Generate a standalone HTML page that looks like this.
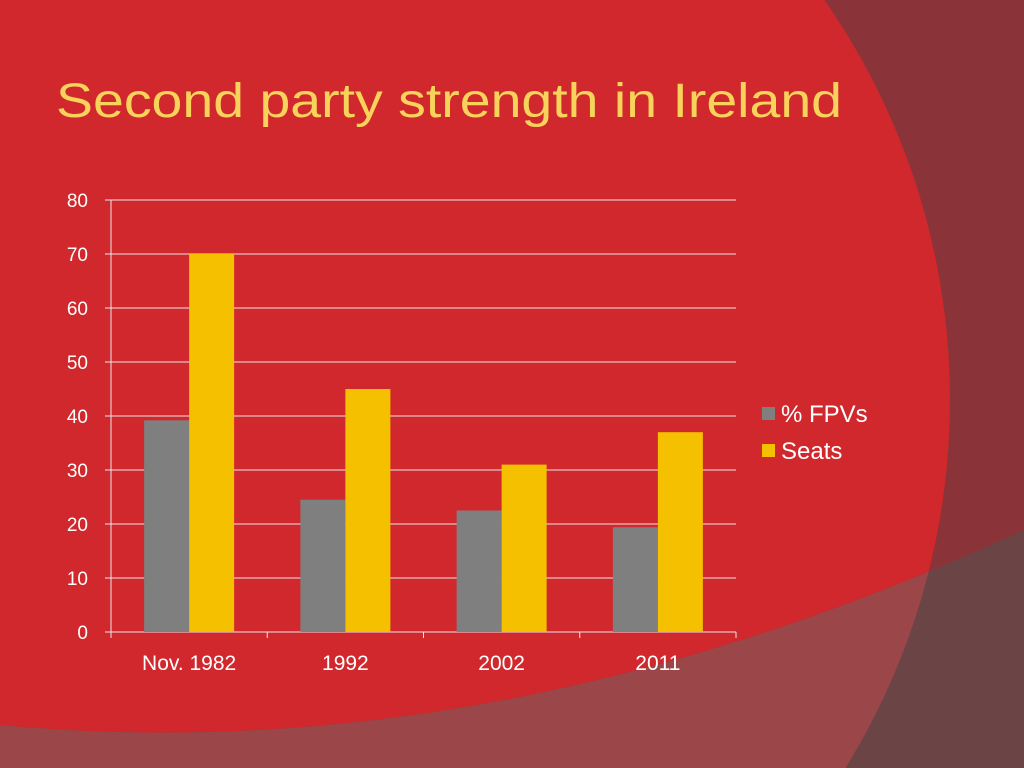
<!DOCTYPE html>
<html><head><meta charset="utf-8"><style>
html,body{margin:0;padding:0;width:1024px;height:768px;overflow:hidden;background:#8a3439}
svg{display:block;font-family:"Liberation Sans",sans-serif}
</style></head><body>
<svg width="1024" height="768" viewBox="0 0 1024 768">
<defs><clipPath id="band"><path d="M0,725 Q500,772 1024,530 L1024,768 L0,768 Z"/></clipPath></defs>
<rect width="1024" height="768" fill="#8a3439"/>
<circle cx="250" cy="400" r="700" fill="#d0282c"/>
<g clip-path="url(#band)">
<rect width="1024" height="768" fill="#6b4546"/>
<circle cx="250" cy="400" r="700" fill="#9b4649"/>
</g>
<text x="56" y="117" fill="#f7d35c" font-size="48" textLength="786" lengthAdjust="spacingAndGlyphs">Second party strength in Ireland</text>
<g id="chart"></g>
<g>
<rect x="762" y="407" width="13" height="13" fill="#7f7f7f"/>
<text x="781" y="422" fill="#fff" font-size="24">% FPVs</text>
<rect x="762" y="444" width="13" height="13" fill="#f5c000"/>
<text x="781" y="459" fill="#fff" font-size="24">Seats</text>
</g>
</svg>
<script>
const categories=["Nov. 1982","1992","2002","2011"];
const fpvs=[39.2,24.5,22.5,19.4];
const seats=[70,45,31,37];
const yTicks=[0,10,20,30,40,50,60,70,80];
const NS="http://www.w3.org/2000/svg";
const g=document.getElementById('chart');
const x0=111,x1=736,y0=632,y1=200,yMax=80;
const y=v=>y0-(v/yMax)*(y0-y1);
const cw=(x1-x0)/categories.length;
function el(t,a){const e=document.createElementNS(NS,t);for(const k in a)e.setAttribute(k,a[k]);g.appendChild(e);return e;}
yTicks.forEach(t=>{
 const l=el('line',{x1:x0-6,x2:x1,y1:y(t),y2:y(t),stroke:'#e8e8e8','stroke-width':1});
 
 
 const tx=el('text',{x:88,y:y(t)+7,'text-anchor':'end',fill:'#fff','font-size':19});
 tx.textContent=t;
 
 
});
const ax=el('line',{x1:x0,x2:x0,y1:y1,y2:y0,stroke:'#e8e8e8'});


for(let i=0;i<=categories.length;i++){
 const t=el('line',{x1:x0+i*cw,x2:x0+i*cw,y1:y0,y2:y0+6,stroke:'#e8e8e8'});
 
 
}
const bw=cw*0.288;
categories.forEach((c,i)=>{
 const cx=x0+i*cw+cw/2;
 const b1=el('rect',{x:cx-bw,y:y(fpvs[i]),width:bw,height:y0-y(fpvs[i]),fill:'#7f7f7f'});
 
 
 const b2=el('rect',{x:cx,y:y(seats[i]),width:bw,height:y0-y(seats[i]),fill:'#f5c000'});
 
 
 const tx=el('text',{x:cx,y:670,'text-anchor':'middle',fill:'#fff','font-size':21});
 tx.textContent=c;
 
 
});
</script>
</body></html>
